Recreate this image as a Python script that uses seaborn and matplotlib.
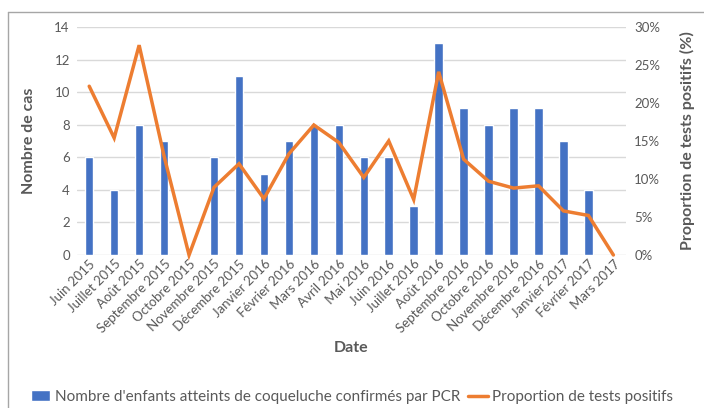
import numpy as np
import pandas as pd
import matplotlib
matplotlib.use("Agg")
import matplotlib.pyplot as plt
from matplotlib.lines import Line2D
from matplotlib.ticker import PercentFormatter
import seaborn as sns

# Données
mois = ["Juin 2015", "Juillet 2015", "Août 2015", "Septembre 2015", "Octobre 2015",
        "Novembre 2015", "Décembre 2015", "Janvier 2016", "Février 2016", "Mars 2016",
        "Avril 2016", "Mai 2016", "Juin 2016", "Juillet 2016", "Août 2016",
        "Septembre 2016", "Octobre 2016", "Novembre 2016", "Décembre 2016",
        "Janvier 2017", "Février 2017", "Mars 2017"]
nb_cas = [6, 4, 8, 7, 0, 6, 11, 5, 7, 8, 8, 6, 6, 3, 13, 9, 8, 9, 9, 7, 4, 0]
proportion = [22.2, 15.4, 27.6, 13.0, 0.0, 8.9, 12.0, 7.4, 13.3, 17.1, 14.8, 10.2,
              15.0, 7.3, 24.1, 12.6, 9.7, 8.8, 9.1, 5.8, 5.2, 0.0]

bleu = "#4472C4"
orange = "#ED7D31"
gris = "#595959"

sns.set_style("white")
plt.rcParams["font.family"] = ["Lato", "DejaVu Sans"]

df = pd.DataFrame({"mois": mois, "cas": nb_cas, "prop": proportion})

fig = plt.figure(figsize=(7.04, 4.08), dpi=100)
ax1 = fig.add_axes([0.109, 0.375, 0.78, 0.559])

sns.barplot(data=df, x="mois", y="cas", color=bleu, width=0.34, saturation=1,
            ax=ax1, label="Nombre d'enfants atteints de coqueluche confirmés par PCR")
if ax1.get_legend() is not None:
    ax1.get_legend().remove()
ax1.set_ylim(0, 14)
ax1.set_yticks(range(0, 15, 2))
ax1.set_xlim(-0.5, len(mois) - 0.5)
ax1.grid(axis="y", color="#D9D9D9", linewidth=1)
ax1.set_axisbelow(True)
for s in ax1.spines.values():
    s.set_visible(False)
ax1.tick_params(axis="both", length=0, colors=gris, labelsize=9.5)
ax1.tick_params(axis="x", pad=2)
ax1.tick_params(axis="y", pad=5)
ax1.set_xticks(range(len(mois)))
ax1.set_xticklabels(mois, rotation=45, ha="right", rotation_mode="anchor", fontsize=9.5)
ax1.set_xlabel("Date", fontsize=11.5, fontweight="bold", color=gris, labelpad=4)
ax1.set_ylabel("Nombre de cas", fontsize=11.5, fontweight="bold", color=gris, labelpad=13)

ax2 = ax1.twinx()
x_pos = np.arange(len(mois))
sns.lineplot(x=x_pos, y=proportion, color=orange, linewidth=2.5, ax=ax2, sort=False,
             label="Proportion de tests positifs", legend=False)
for l in ax2.lines:
    l.set_clip_on(False)
    l.set_solid_joinstyle("miter")
ax2.set_ylim(0, 30)
ax2.set_yticks(range(0, 31, 5))
ax2.yaxis.set_major_formatter(PercentFormatter(decimals=0))
for s in ax2.spines.values():
    s.set_visible(False)
ax2.tick_params(axis="y", length=0, colors=gris, labelsize=9.5, pad=6)
ax2.set_ylabel("Proportion de tests positifs (%)", fontsize=11.5, fontweight="bold",
               color=gris, labelpad=14)
ax2.grid(False)

# légende
h1, l1 = ax1.get_legend_handles_labels()
h2, l2 = ax2.get_legend_handles_labels()
fig.legend(h1 + h2, l1 + l2, loc="center", bbox_to_anchor=(0.5, 0.027), ncol=2,
           frameon=False, fontsize=11, labelcolor=gris, handlelength=1.3,
           handletextpad=0.3, columnspacing=0.5)

# cadre du graphique
fig.add_artist(Line2D([8 / 704, 8 / 704], [0, 1 - 12 / 408], color="#A6A6A6", lw=1))
fig.add_artist(Line2D([8 / 704, 1], [1 - 12 / 408, 1 - 12 / 408], color="#A6A6A6", lw=1))

fig.savefig("out.png", dpi=100)
